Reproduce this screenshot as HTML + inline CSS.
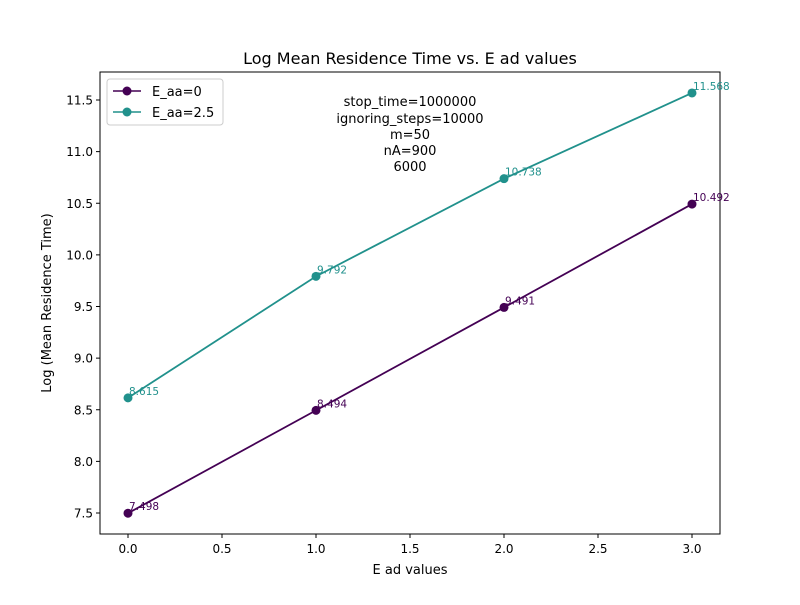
<!DOCTYPE html>
<html><head><meta charset="utf-8"><style>
body{margin:0;background:#fff;}
svg text{font-family:"DejaVu Sans","Liberation Sans",sans-serif;}
</style></head><body>
<svg id="chart" width="800" height="600" xmlns="http://www.w3.org/2000/svg">
<rect width="800" height="600" fill="#fff"/>
<text x="410" y="64" font-size="16" text-anchor="middle">Log Mean Residence Time vs. E ad values</text>
<rect x="100" y="72" width="620" height="462" fill="none" stroke="#000" stroke-width="1"/>
<g id="xticks"></g><g id="yticks"></g>
<text x="410" y="574" font-size="13" text-anchor="middle">E ad values</text>
<text transform="translate(51,303) rotate(-90)" font-size="13" text-anchor="middle">Log (Mean Residence Time)</text>
<g id="series"></g>
<g font-size="13" text-anchor="middle">
<text x="410" y="106">stop_time=1000000</text>
<text x="410" y="123">ignoring_steps=10000</text>
<text x="410" y="139">m=50</text>
<text x="410" y="155">nA=900</text>
<text x="410" y="171">6000</text>
</g>
<g>
<rect x="107" y="79" width="116" height="46" fill="#fff" stroke="#ccc" rx="3"/>
<g>
<line x1="113" y1="91" x2="141" y2="91" stroke="#440154" stroke-width="1.5"/><circle cx="127" cy="91" r="4.5" fill="#440154"/>
<text x="152" y="96" font-size="13">E_aa=0</text></g>
<g>
<line x1="113" y1="112" x2="141" y2="112" stroke="#21918c" stroke-width="1.5"/><circle cx="127" cy="112" r="4.5" fill="#21918c"/>
<text x="152" y="117" font-size="13">E_aa=2.5</text></g>
</g>
</svg>
<script>
const categories=[0,1,2,3];
const seriesNames=["E_aa=0","E_aa=2.5"];
const series0=[7.498,8.494,9.491,10.492];
const series1=[8.615,9.792,10.738,11.568];
const colors=["#440154","#21918c"];
const xTickLabels=["0.0","0.5","1.0","1.5","2.0","2.5","3.0"];
const yTickLabels=["7.5","8.0","8.5","9.0","9.5","10.0","10.5","11.0","11.5"];
const NS="http://www.w3.org/2000/svg";
function xs(v){return 128+(v-0)*188;}
function ys(v){return 513-(v-7.5)*103.25;}
function mk(tag,attrs,parent){const e=document.createElementNS(NS,tag);for(const k in attrs)e.setAttribute(k,attrs[k]);parent.appendChild(e);return e;}
const xt=document.getElementById('xticks'),yt=document.getElementById('yticks'),sg=document.getElementById('series');
xTickLabels.forEach(l=>{const x=xs(parseFloat(l));
const t=mk('line',{x1:x,x2:x,y1:534,y2:538,stroke:'#000'},xt);


const tx=mk('text',{x:x,y:553,'font-size':12,'text-anchor':'middle'},xt);tx.textContent=l;

});
yTickLabels.forEach(l=>{const y=ys(parseFloat(l));
const t=mk('line',{x1:96,x2:100,y1:y,y2:y,stroke:'#000'},yt);


const tx=mk('text',{x:93,y:y+4.5,'font-size':12,'text-anchor':'end'},yt);tx.textContent=l;

});
[series0,series1].forEach((vals,i)=>{
const g=mk('g',{},sg);


const pl=mk('polyline',{points:vals.map((v,j)=>xs(categories[j])+','+ys(v)).join(' '),fill:'none',stroke:colors[i],'stroke-width':1.8},g);


vals.forEach((v,j)=>{
const c=mk('circle',{cx:xs(categories[j]),cy:ys(v),r:4.5,fill:colors[i]},g);


const t=mk('text',{x:xs(categories[j])+1,y:ys(v)-3,'font-size':10.5,fill:colors[i]},g);t.textContent=v.toFixed(3);

});});
</script>
</body></html>
